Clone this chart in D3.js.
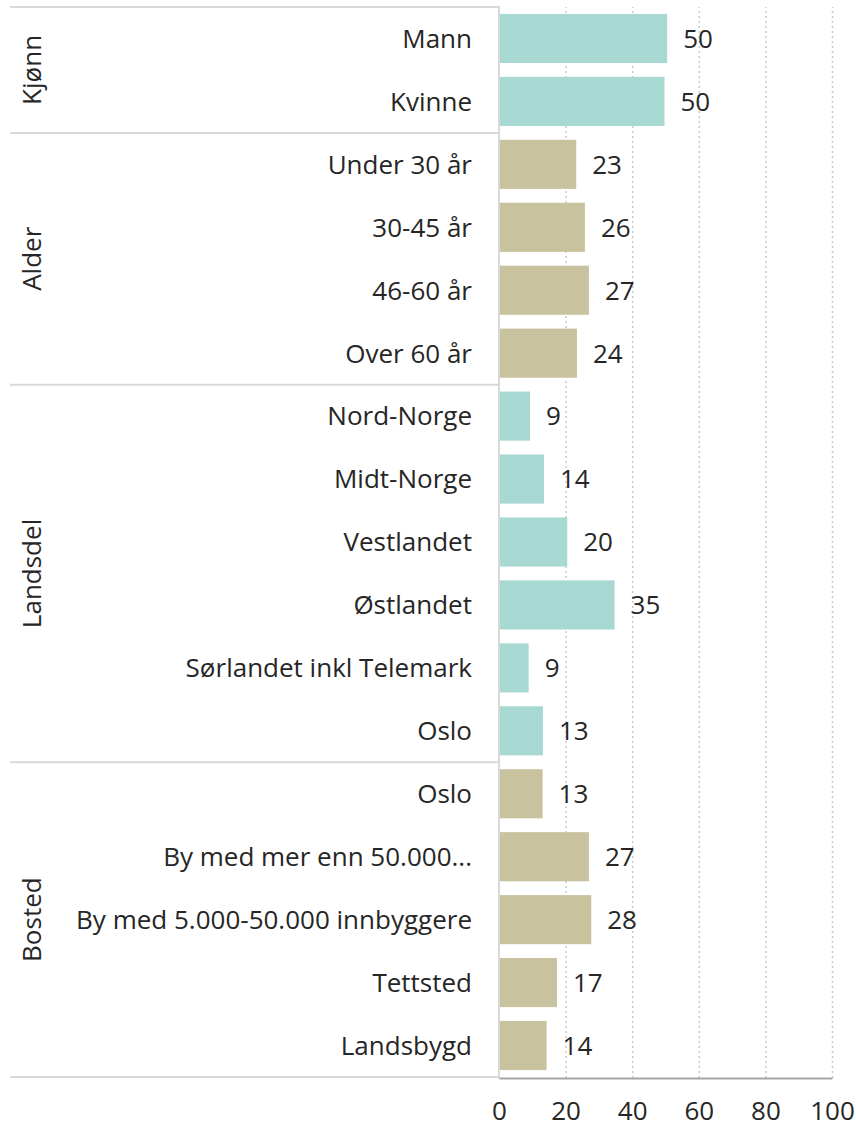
<!DOCTYPE html>
<html>
<head>
<meta charset="utf-8">
<script src="https://cdn.jsdelivr.net/npm/d3@7"></script>
<style>
  body { margin: 0; background: #fff; }
  text { font-family: "Open Sans", sans-serif; fill: #262626; }
</style>
</head>
<body>
<script>
// data (percent)
var groups = ["Kjønn", "Alder", "Landsdel", "Bosted"];
var groupColors = ["#a8d8d2", "#c9c29f", "#a8d8d2", "#c9c29f"];
var categories = [
  ["Mann", "Kvinne"],
  ["Under 30 år", "30-45 år", "46-60 år", "Over 60 år"],
  ["Nord-Norge", "Midt-Norge", "Vestlandet", "Østlandet", "Sørlandet inkl Telemark", "Oslo"],
  ["Oslo", "By med mer enn 50.000...", "By med 5.000-50.000 innbyggere", "Tettsted", "Landsbygd"]
];
var values = [
  [50.5, 49.7],
  [23.2, 25.8, 27.0, 23.4],
  [9.3, 13.5, 20.5, 34.7, 8.9, 13.2],
  [13.1, 27.0, 27.7, 17.4, 14.3]
];
var labels = [
  [50, 50],
  [23, 26, 27, 24],
  [9, 14, 20, 35, 9, 13],
  [13, 27, 28, 17, 14]
];
var xTicks = [0, 20, 40, 60, 80, 100];

// flatten into rows
var rows = [];
groups.forEach(function(g, gi) {
  categories[gi].forEach(function(c, ci) {
    rows.push({ key: gi + "-" + ci, group: gi, first: ci === 0, name: c, value: values[gi][ci], label: labels[gi][ci] });
  });
});

var W = 856, H = 1130;
var m = { left: 499, right: 832, top: 7, bottom: 1077 };
var fs = 26;

var svg = d3.select("body").append("svg")
  .attr("width", W).attr("height", H);

var x = d3.scaleLinear().domain([0, 100]).range([m.left, m.right]);
var y = d3.scaleBand()
  .domain(rows.map(function(d) { return d.key; }))
  .range([m.top, m.bottom])
  .paddingInner(0.22)
  .paddingOuter(0.11);
var off = y.step() * 0.11;

// gridlines
svg.append("g")
  .attr("transform", "translate(0," + (m.bottom + 1) + ")")
  .call(d3.axisBottom(x).tickValues(xTicks.slice(1)).tickSize(-(m.bottom + 1 - m.top)).tickFormat(""))
  .call(function(g) { g.select(".domain").remove(); })
  .call(function(g) {
    g.selectAll(".tick line")
      .attr("stroke", "#c8c8c8")
      .attr("stroke-width", 1.5)
      .attr("stroke-dasharray", "2,3");
  });

// bars
svg.append("g").selectAll("rect")
  .data(rows)
  .join("rect")
  .attr("x", x(0))
  .attr("y", function(d) { return y(d.key); })
  .attr("width", function(d) { return x(d.value) - x(0); })
  .attr("height", y.bandwidth())
  .attr("fill", function(d) { return groupColors[d.group]; });

// value labels
svg.append("g").selectAll("text")
  .data(rows)
  .join("text")
  .attr("x", function(d) { return x(d.value) + 16; })
  .attr("y", function(d) { return y(d.key) + y.bandwidth() / 2; })
  .attr("dy", "0.36em")
  .style("font-size", fs + "px")
  .text(function(d) { return d.label; });

// category labels
svg.append("g").selectAll("text")
  .data(rows)
  .join("text")
  .attr("x", m.left - 27)
  .attr("y", function(d) { return y(d.key) + y.bandwidth() / 2; })
  .attr("dy", "0.36em")
  .attr("text-anchor", "end")
  .style("font-size", fs + "px")
  .text(function(d) { return d.name; });

// group separators
var firsts = rows.filter(function(d) { return d.first; });
var seps = firsts.map(function(d) { return y(d.key) - off; }).concat([m.bottom]);
svg.append("g").selectAll("line")
  .data(seps)
  .join("line")
  .attr("x1", 10).attr("x2", m.left)
  .attr("y1", function(d) { return d; }).attr("y2", function(d) { return d; })
  .attr("stroke", "#d9d9d9")
  .attr("stroke-width", 2);

// group labels
svg.append("g").selectAll("text")
  .data(groups)
  .join("text")
  .attr("transform", function(g, i) {
    var cy = (seps[i] + seps[i + 1]) / 2;
    return "translate(41," + cy + ") rotate(-90)";
  })
  .attr("text-anchor", "middle")
  .style("font-size", fs + "px")
  .text(function(g) { return g; });

// category axis line
svg.append("line")
  .attr("x1", m.left).attr("x2", m.left)
  .attr("y1", m.top - 1).attr("y2", m.bottom + 2)
  .attr("stroke", "#d9d9d9")
  .attr("stroke-width", 2);

// value axis
svg.append("g")
  .attr("transform", "translate(0," + (m.bottom + 1) + ")")
  .call(d3.axisBottom(x).tickValues(xTicks).tickSize(0).tickPadding(24))
  .call(function(g) {
    g.select(".domain").attr("stroke", "#a6a6a6").attr("stroke-width", 2);
    g.selectAll(".tick text")
      .style("font-size", fs + "px")
      .style("font-family", "'Open Sans', sans-serif")
      .attr("fill", "#262626");
  });
</script>
</body>
</html>
